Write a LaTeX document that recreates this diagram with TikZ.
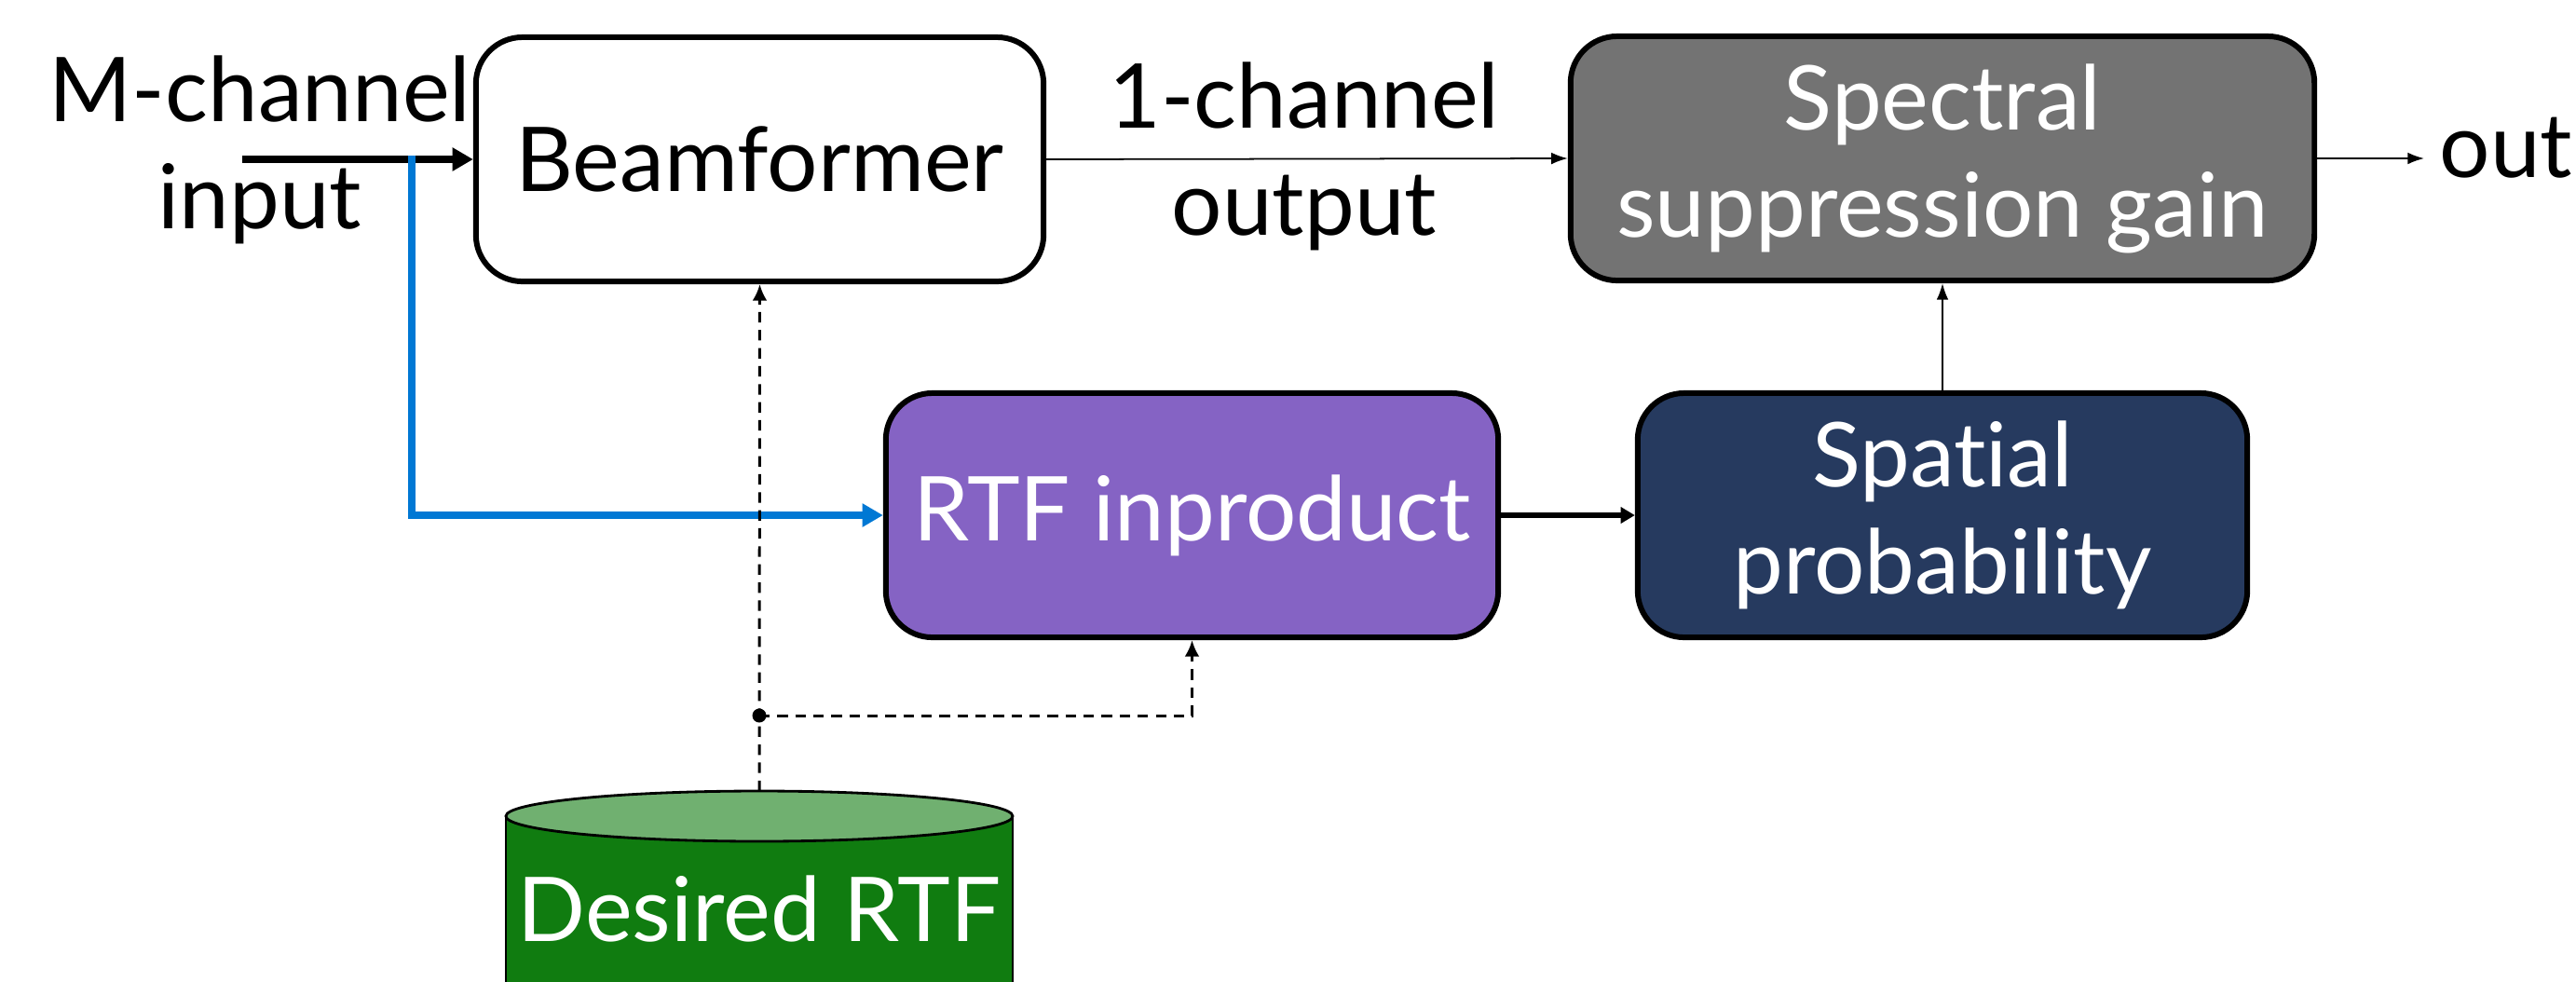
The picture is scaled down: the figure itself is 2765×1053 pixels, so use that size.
\documentclass[tikz,border=0pt]{standalone}
\usepackage{fontspec}
\setmainfont{Lato}[Ligatures={NoCommon}]
\usetikzlibrary{arrows.meta}
\definecolor{rtfpurple}{RGB}{133,99,196}
\definecolor{spatnavy}{RGB}{38,58,95}
\definecolor{specgray}{RGB}{115,115,115}
\definecolor{dbgreen}{RGB}{16,124,16}
\definecolor{dblight}{RGB}{112,176,112}
\definecolor{inblue}{RGB}{0,120,212}
\newcommand\txtfont{\fontsize{27.3}{32.7}\selectfont}

\begin{document}
\begin{tikzpicture}[x=0.01cm, y=-0.01cm,
  block/.style={draw=black, line width=1.7pt, rounded corners=0.5cm, minimum height=2.62cm, inner sep=0pt, align=center, font=\txtfont},
  lbl/.style={inner sep=0pt, align=center, font=\txtfont},
  fatarrow/.style={line width=2.5pt, -{Triangle[length=6.3pt,width=6.8pt]}},
  midarrow/.style={line width=1.7pt, -{Triangle[length=4.3pt,width=4.8pt]}},
  slimarrow/.style={line width=0.5pt, -{Latex[length=5pt,width=3.6pt]}},
  dasharrow/.style={line width=0.85pt, dash pattern=on 3.2pt off 2.3pt, -{Latex[length=5pt,width=4.5pt]}}]
  \useasboundingbox (0,0) rectangle (2765,1053);
  \clip (0,0) rectangle (2765,1053);
  \node[block, fill=white, minimum width=6.09cm] (beam) at (815.5,171) {Beamformer};
  \node[block, fill=specgray, text=white, minimum width=7.98cm] (spec) at (2085,170) {Spectral\\suppression gain};
  \node[block, fill=rtfpurple, text=white, minimum width=6.57cm] (rtf) at (1279.5,553) {RTF inproduct};
  \node[block, fill=spatnavy, text=white, minimum width=6.54cm] (spat) at (2085,553) {Spatial\\probability};
  \node[lbl] (inl) at (279,161) {M-channel\\input};
  \node[lbl] (chl) at (1400,168) {1-channel\\output};
  \node[lbl, anchor=base west, inner xsep=0.16cm] (outl) at (2602,190) {out};
  \filldraw[fill=dbgreen, line width=0.8pt] (543,876) -- (543,1075) -- (1087,1075) -- (1087,876);
  \filldraw[fill=dblight, line width=0.8pt] (815,876) ellipse [x radius=272, y radius=27];
  \node[lbl, text=white, anchor=base] (db) at (815,1010) {Desired RTF};
  \coordinate (dbtop) at (815,849);
  \coordinate (src) at (260,171);
  \coordinate (split) at (442,167);
  \coordinate (jn) at (815,768);
  \draw[fatarrow] (src) -- (beam.west);
  \draw[fatarrow, inblue] (split) |- (rtf.west);
  \draw[slimarrow] (beam.east) -- (spec.west);
  \draw[slimarrow] (spec.east) -- (spec.east -| outl.west);
  \draw[slimarrow] (spat.north) -- (spec.south);
  \draw[midarrow] (rtf.east) -- (spat.west);
  \draw[dasharrow] (dbtop) -- (beam.south);
  \draw[dasharrow] (jn) -| (rtf.south);
  \fill (jn) circle [radius=7.5];
\end{tikzpicture}
\end{document}
